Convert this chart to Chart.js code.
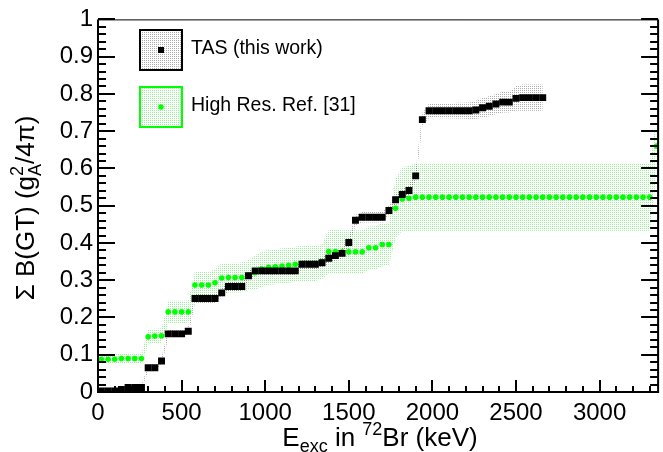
<!DOCTYPE html>
<html>
<head>
<meta charset="utf-8">
<script src="https://cdn.jsdelivr.net/npm/chart.js@4.4.1/dist/chart.umd.min.js"></script>
<style>
  html, body { margin: 0; padding: 0; background: #fff; }
  #wrap { width: 663px; height: 452px; }
</style>
</head>
<body>
<div id="wrap"><canvas id="bgtChart" width="663" height="452"></canvas></div>
<script>
// excitation energy bins in 72Br (keV)
var energies = [20, 60, 100, 140, 180, 220, 260, 300, 340, 380, 420, 460, 500, 540, 580, 620, 660, 700,
    740, 780, 820, 860, 900, 940, 980, 1020, 1060, 1100, 1140, 1180, 1220, 1260, 1300, 1340, 1380, 1420,
    1460, 1500, 1540, 1580, 1620, 1660, 1700, 1740, 1780, 1820, 1860, 1900, 1940, 1980, 2020, 2060, 2100,
    2140, 2180, 2220, 2260, 2300, 2340, 2380, 2420, 2460, 2500, 2540, 2580, 2620, 2660, 2700, 2740, 2780,
    2820, 2860, 2900, 2940, 2980, 3020, 3060, 3100, 3140, 3180, 3220, 3260, 3300, 3340];

// TAS (this work): accumulated B(GT)
var tasBgt = [0.003, 0.003, 0.003, 0.007, 0.012, 0.012, 0.012, 0.065, 0.065, 0.083,
    0.156, 0.156, 0.156, 0.163, 0.251, 0.251, 0.251, 0.251, 0.266, 0.283,
    0.283, 0.283, 0.312, 0.325, 0.325, 0.325, 0.325, 0.325, 0.325, 0.325,
    0.343, 0.343, 0.343, 0.347, 0.359, 0.366, 0.372, 0.401, 0.461, 0.469,
    0.469, 0.469, 0.469, 0.487, 0.516, 0.530, 0.541, 0.580, 0.731, 0.755,
    0.755, 0.755, 0.755, 0.755, 0.755, 0.755, 0.757, 0.763, 0.767, 0.773,
    0.778, 0.778, 0.788, 0.790, 0.790, 0.790, 0.790];
var tasErr = [0.005, 0.005, 0.005, 0.005, 0.006, 0.006, 0.006, 0.009, 0.009, 0.009,
    0.011, 0.011, 0.011, 0.011, 0.012, 0.012, 0.012, 0.012, 0.012, 0.012,
    0.012, 0.012, 0.012, 0.012, 0.012, 0.012, 0.012, 0.012, 0.012, 0.012,
    0.013, 0.013, 0.013, 0.013, 0.013, 0.013, 0.013, 0.014, 0.014, 0.014,
    0.014, 0.014, 0.014, 0.014, 0.014, 0.014, 0.014, 0.015, 0.018, 0.019,
    0.019, 0.020, 0.020, 0.021, 0.021, 0.022, 0.024, 0.026, 0.027, 0.027,
    0.028, 0.028, 0.033, 0.035, 0.035, 0.035, 0.035];

// High resolution reference [31]
var hrBgt = [0.088, 0.088, 0.088, 0.090, 0.090, 0.090, 0.090, 0.148, 0.150, 0.151,
    0.215, 0.215, 0.215, 0.215, 0.287, 0.287, 0.287, 0.293, 0.306, 0.307,
    0.307, 0.307, 0.314, 0.320, 0.330, 0.335, 0.336, 0.338, 0.340, 0.343,
    0.345, 0.345, 0.345, 0.350, 0.377, 0.377, 0.376, 0.376, 0.376, 0.376,
    0.387, 0.387, 0.396, 0.396, 0.493, 0.518, 0.520, 0.523, 0.523, 0.523,
    0.523, 0.523, 0.523, 0.523, 0.523, 0.523, 0.523, 0.523, 0.523, 0.523,
    0.523, 0.523, 0.523, 0.523, 0.523, 0.523, 0.523, 0.523, 0.523, 0.523,
    0.523, 0.523, 0.523, 0.523, 0.523, 0.523, 0.523, 0.523, 0.523, 0.523,
    0.523, 0.523, 0.523, 0.660];
var hrErr = [0.013, 0.013, 0.013, 0.013, 0.013, 0.013, 0.013, 0.020, 0.020, 0.020,
    0.030, 0.030, 0.030, 0.030, 0.036, 0.036, 0.036, 0.036, 0.040, 0.040,
    0.040, 0.040, 0.040, 0.047, 0.047, 0.047, 0.047, 0.047, 0.047, 0.047,
    0.047, 0.047, 0.047, 0.047, 0.058, 0.058, 0.058, 0.058, 0.058, 0.058,
    0.058, 0.058, 0.058, 0.058, 0.080, 0.085, 0.088, 0.090, 0.090, 0.090,
    0.090, 0.090, 0.090, 0.090, 0.090, 0.090, 0.090, 0.090, 0.090, 0.090,
    0.090, 0.090, 0.090, 0.090, 0.090, 0.090, 0.090, 0.090, 0.090, 0.090,
    0.090, 0.090, 0.090, 0.090, 0.090, 0.090, 0.090, 0.090, 0.090, 0.090,
    0.090, 0.090, 0.090, 0.080];

var xMajorTicks = [0, 500, 1000, 1500, 2000, 2500, 3000];
var legendLabels = ['TAS (this work)', 'High Res. Ref. [31]'];

var FONT = '"Liberation Sans", Arial, Helvetica, sans-serif';
var GREEN = '#00ff00';

function dotPattern(color) {
    var tile = document.createElement('canvas');
    tile.width = 2;
    tile.height = 2;
    var t = tile.getContext('2d');
    t.fillStyle = color;
    t.fillRect(0, 0, 1, 1);
    return t.createPattern(tile, 'repeat');
}
var greyDots = dotPattern('rgba(0,0,0,0.32)');
var greenDots = dotPattern('rgba(0,230,0,0.42)');

function points(values, shift, errs) {
    return values.map(function(v, i) {
        return { x: energies[i], y: errs ? v + shift * errs[i] : v };
    });
}

// draws a run of text pieces (with sub/superscripts) centred on cx, baseline at by
function drawRich(ctx, parts, cx, by) {
    var total = 0;
    parts.forEach(function(p) {
        ctx.font = p.size + 'px ' + FONT;
        p.w = ctx.measureText(p.t).width;
        if (!p.stack) total += p.w;
    });
    var x = cx - total / 2;
    ctx.textAlign = 'left';
    ctx.textBaseline = 'alphabetic';
    parts.forEach(function(p) {
        ctx.font = p.size + 'px ' + FONT;
        ctx.fillText(p.t, x, by + (p.dy || 0));
        if (!p.stack) x += p.w;
    });
}

var decorations = {
    id: 'decorations',
    afterDraw: function(chart) {
        var ctx = chart.ctx;
        var a = chart.chartArea;
        var xs = chart.scales.x, ys = chart.scales.y;
        ctx.save();
        ctx.fillStyle = '#000';
        ctx.strokeStyle = '#000';

        // inward ticks
        ctx.lineWidth = 2;
        ctx.beginPath();
        for (var v = 0; v <= 3300; v += 100) {
            var px = Math.round(xs.getPixelForValue(v));
            var len = v % 500 === 0 ? 12 : 6;
            ctx.moveTo(px, a.bottom);
            ctx.lineTo(px, a.bottom - len);
        }
        for (var i = 0; i <= 50; i++) {
            var py = Math.round(ys.getPixelForValue(i / 50));
            var l = i % 5 === 0 ? 17 : 8;
            ctx.moveTo(a.left, py);
            ctx.lineTo(a.left + l, py);
            ctx.moveTo(a.right, py);
            ctx.lineTo(a.right - l, py);
        }
        ctx.stroke();

        // frame
        ctx.beginPath();
        ctx.moveTo(a.left, a.top);
        ctx.lineTo(a.left, a.bottom);
        ctx.lineTo(a.right, a.bottom);
        ctx.lineTo(a.right, a.top);
        ctx.stroke();
        ctx.lineWidth = 1;
        ctx.beginPath();
        ctx.moveTo(a.left, a.top + 0.5);
        ctx.lineTo(a.right, a.top + 0.5);
        ctx.stroke();

        // legend
        ctx.lineWidth = 2;
        ctx.fillStyle = greyDots;
        ctx.fillRect(140, 30, 42, 40);
        ctx.strokeStyle = '#000';
        ctx.strokeRect(140, 30, 42, 40);
        ctx.fillStyle = '#000';
        ctx.fillRect(158, 47, 6, 6);

        ctx.fillStyle = greenDots;
        ctx.fillRect(140, 87, 42, 40);
        ctx.strokeStyle = GREEN;
        ctx.strokeRect(140, 87, 42, 40);
        ctx.fillStyle = GREEN;
        ctx.beginPath();
        ctx.arc(161, 107, 2.7, 0, Math.PI * 2);
        ctx.fill();

        ctx.fillStyle = '#000';
        ctx.font = '19.5px ' + FONT;
        ctx.textAlign = 'left';
        ctx.textBaseline = 'middle';
        ctx.fillText(legendLabels[0], 191, 49);
        ctx.fillText(legendLabels[1], 191, 106);

        // axis titles
        drawRich(ctx, [
            { t: 'E', size: 26 },
            { t: 'exc', size: 18, dy: 6 },
            { t: ' in ', size: 26 },
            { t: '72', size: 18, dy: -11 },
            { t: 'Br (keV)', size: 26 }
        ], 380, 446);

        ctx.translate(34, 208);
        ctx.rotate(-Math.PI / 2);
        drawRich(ctx, [
            { t: '\u03A3 B(GT) (g', size: 26 },
            { t: '2', size: 18, dy: -11, stack: true },
            { t: 'A', size: 18, dy: 7 },
            { t: '/4\u03C0)', size: 26 }
        ], 0, 0);
        ctx.restore();
    }
};

var chart = new Chart(document.getElementById('bgtChart'), {
    type: 'line',
    data: {
        datasets: [
            {
                label: legendLabels[0],
                data: points(tasBgt),
                showLine: false,
                pointStyle: 'rect',
                pointRadius: 4.9,
                pointBorderWidth: 0,
                pointBackgroundColor: '#000',
                borderColor: '#000'
            },
            {
                label: legendLabels[1],
                data: points(hrBgt),
                showLine: false,
                pointStyle: 'circle',
                pointRadius: 2.8,
                pointBorderWidth: 0,
                pointBackgroundColor: GREEN,
                borderColor: GREEN
            },
            {
                label: 'tas upper',
                data: points(tasBgt, 1, tasErr),
                borderColor: 'rgba(0,0,0,0)',
                pointRadius: 0,
                fill: '+1',
                backgroundColor: greyDots
            },
            {
                label: 'tas lower',
                data: points(tasBgt, -1, tasErr),
                borderColor: 'rgba(0,0,0,0)',
                pointRadius: 0,
                fill: false
            },
            {
                label: 'hr upper',
                data: points(hrBgt, 1, hrErr),
                borderColor: 'rgba(0,0,0,0)',
                pointRadius: 0,
                fill: '+1',
                backgroundColor: greenDots
            },
            {
                label: 'hr lower',
                data: points(hrBgt, -1, hrErr),
                borderColor: 'rgba(0,0,0,0)',
                pointRadius: 0,
                fill: false
            }
        ]
    },
    options: {
        responsive: false,
        animation: false,
        devicePixelRatio: 1,
        layout: { padding: { left: 0, right: 3, top: 17, bottom: 0 } },
        plugins: {
            legend: { display: false },
            tooltip: { enabled: false }
        },
        scales: {
            x: {
                type: 'linear',
                min: 0,
                max: 3350,
                afterFit: function(s) { s.height = 60; },
                afterBuildTicks: function(s) {
                    s.ticks = xMajorTicks.map(function(v) { return { value: v }; });
                },
                grid: { display: false, drawTicks: false },
                border: { display: false },
                ticks: {
                    autoSkip: false,
                    maxRotation: 0,
                    padding: 7,
                    color: '#000',
                    font: { family: FONT, size: 24 },
                    callback: function(v) { return String(v); }
                }
            },
            y: {
                min: 0,
                max: 1,
                afterFit: function(s) { s.width = 98; },
                grid: { display: false, drawTicks: false },
                border: { display: false },
                ticks: {
                    stepSize: 0.1,
                    padding: 5,
                    color: '#000',
                    font: { family: FONT, size: 24 },
                    callback: function(v) {
                        var r = Math.round(v * 10) / 10;
                        return (r === 0 || r === 1) ? String(r) : r.toFixed(1);
                    }
                }
            }
        }
    },
    plugins: [decorations]
});
</script>
</body>
</html>
